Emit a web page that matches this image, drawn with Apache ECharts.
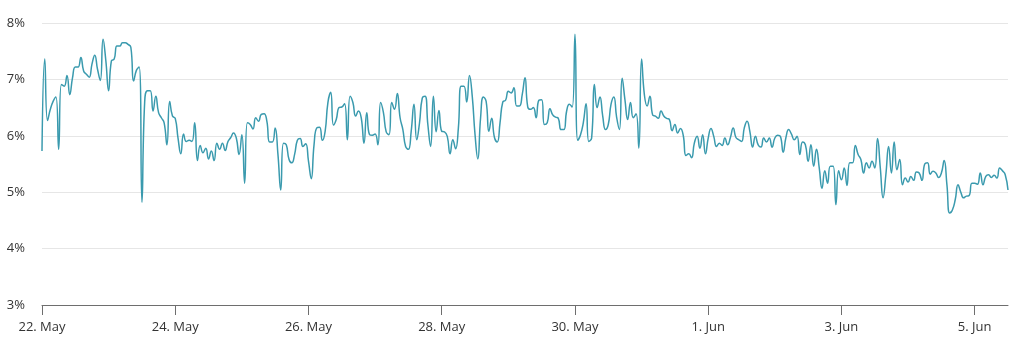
<!DOCTYPE html>
<html>
<head>
<meta charset="utf-8">
<style>
  html, body { margin: 0; padding: 0; background: #ffffff; }
  #chart { width: 1009px; height: 344px; }
</style>
<script src="https://cdn.jsdelivr.net/npm/echarts@6/dist/echarts.min.js"></script>
</head>
<body>
<div id="chart"></div>
<script>
// Hourly rate readings (%), one array per day starting at 00:00 UTC
const may22 = [5.73, 7.36, 6.27, 6.47, 6.61, 6.69, 5.76, 6.91, 6.88, 7.07, 6.73, 7.03,
               7.22, 7.22, 7.39, 7.15, 7.09, 7.04, 7.27, 7.43, 7.18, 6.98, 7.71, 7.33];
const may23 = [6.80, 7.33, 7.36, 7.59, 7.59, 7.65, 7.65, 7.62, 7.57, 6.97, 7.16, 7.22,
               4.82, 6.61, 6.80, 6.80, 6.44, 6.70, 6.41, 6.32, 6.23, 5.84, 6.61, 6.35];
const may24 = [6.31, 5.96, 5.68, 6.03, 5.90, 5.92, 5.90, 6.23, 5.56, 5.83, 5.70, 5.78,
               5.59, 5.73, 5.56, 5.87, 5.76, 5.87, 5.74, 5.90, 5.97, 6.05, 5.96, 5.67];
const may25 = [6.02, 5.16, 6.23, 6.20, 6.12, 6.32, 6.26, 6.38, 6.39, 6.26, 5.89, 5.89,
               6.14, 5.67, 5.04, 5.87, 5.84, 5.58, 5.52, 5.67, 5.92, 5.95, 5.81, 5.86];
const may26 = [5.55, 5.24, 5.84, 6.14, 6.15, 5.92, 6.08, 6.59, 6.77, 6.19, 6.29, 6.50,
               6.51, 6.57, 5.93, 6.70, 6.59, 6.35, 6.44, 6.32, 5.87, 6.41, 6.02, 6.01];
const may27 = [6.03, 5.84, 6.59, 6.41, 6.07, 6.02, 6.59, 6.47, 6.75, 6.32, 6.11, 5.81,
               5.76, 6.08, 6.56, 5.93, 6.23, 6.67, 6.70, 6.20, 5.81, 6.70, 6.07, 6.45];
const may28 = [6.08, 6.07, 5.99, 5.68, 5.93, 5.77, 6.14, 6.88, 6.88, 6.60, 7.07, 6.70,
               6.02, 5.59, 6.32, 6.69, 6.61, 6.08, 6.31, 5.97, 5.89, 6.23, 6.60, 6.63];
const may29 = [6.79, 6.76, 6.85, 6.53, 6.53, 6.73, 7.03, 6.51, 6.47, 6.50, 6.32, 6.63,
               6.64, 6.20, 6.23, 6.48, 6.37, 6.33, 6.31, 6.11, 6.11, 6.44, 6.56, 6.51];
const may30 = [7.80, 5.92, 6.02, 6.23, 6.57, 5.90, 5.96, 6.91, 6.50, 6.69, 6.35, 6.11,
               6.20, 6.56, 6.69, 6.33, 6.11, 7.02, 6.64, 6.29, 6.59, 6.32, 6.39, 5.78];
const may31 = [7.36, 6.73, 6.53, 6.70, 6.37, 6.35, 6.31, 6.44, 6.35, 6.31, 6.29, 6.09,
               6.20, 6.05, 6.13, 6.01, 5.65, 5.68, 5.61, 5.87, 5.99, 5.78, 6.02, 5.68];
const jun01 = [5.96, 6.13, 5.99, 5.81, 5.87, 5.83, 5.96, 5.84, 5.97, 6.14, 5.97, 5.93,
               5.90, 6.14, 6.26, 6.08, 5.80, 5.99, 5.84, 5.80, 5.96, 5.89, 5.96, 5.80];
const jun02 = [5.96, 6.01, 5.99, 5.71, 5.97, 6.11, 6.03, 5.93, 5.99, 5.67, 5.89, 5.84,
               5.55, 5.84, 5.46, 5.76, 5.43, 5.07, 5.38, 5.16, 5.46, 5.46, 4.78, 5.38];
const jun03 = [5.22, 5.43, 5.12, 5.52, 5.52, 5.83, 5.67, 5.58, 5.34, 5.52, 5.43, 5.55,
               5.43, 5.95, 5.43, 4.90, 5.31, 5.81, 5.34, 5.89, 5.40, 5.58, 5.13, 5.25];
const jun04 = [5.18, 5.28, 5.21, 5.36, 5.34, 5.21, 5.50, 5.52, 5.32, 5.37, 5.34, 5.26,
               5.34, 5.56, 5.13, 4.63, 4.69, 4.87, 5.13, 5.00, 4.90, 4.93, 4.94, 5.16];
const jun05 = [5.16, 5.14, 5.34, 5.13, 5.28, 5.31, 5.26, 5.30, 5.25, 5.43, 5.38, 5.31, 5.04];

const days = [may22, may23, may24, may25, may26, may27, may28, may29, may30, may31,
              jun01, jun02, jun03, jun04, jun05];

// Axis tick labels, one every two days
const xTickLabels = ['22. May', '24. May', '26. May', '28. May', '30. May', '1. Jun', '3. Jun', '5. Jun'];
const yTicks = [3, 4, 5, 6, 7, 8];

const HOURS_PER_TICK = 48;

// x = hours since 22 May 00:00
const points = [];
days.forEach((day, d) => day.forEach((v, h) => points.push([d * 24 + h, v])));
const lastHour = points[points.length - 1][0];

const fontFamily = "'Open Sans', 'Noto Sans', sans-serif";

const chart = echarts.init(document.getElementById('chart'), null, { renderer: 'canvas' });
chart.setOption({
  animation: false,
  backgroundColor: '#ffffff',
  grid: { left: 42, right: 1, top: 23, bottom: 39 },
  xAxis: {
    type: 'value',
    min: 0,
    max: lastHour,
    interval: HOURS_PER_TICK,
    axisLine: { show: true, lineStyle: { color: '#6e6e6e', width: 1 } },
    axisTick: {
      show: true, length: 10, lineStyle: { color: '#6e6e6e', width: 1 },
      customValues: xTickLabels.map((_, i) => i * HOURS_PER_TICK)
    },
    axisLabel: {
      color: '#333333', fontSize: 13, fontFamily, margin: 16,
      customValues: xTickLabels.map((_, i) => i * HOURS_PER_TICK),
      formatter: v => xTickLabels[Math.round(v / HOURS_PER_TICK)] || ''
    },
    splitLine: { show: false }
  },
  yAxis: {
    type: 'value',
    min: yTicks[0],
    max: yTicks[yTicks.length - 1],
    interval: 1,
    axisLine: { show: false },
    axisTick: { show: false },
    axisLabel: {
      color: '#333333', fontSize: 13, fontFamily, margin: 17,
      formatter: v => v + '%'
    },
    splitLine: { show: true, lineStyle: { color: '#e6e6e6', width: 1 } }
  },
  series: [{
    type: 'line',
    data: points,
    smooth: 0.5,
    showSymbol: false,
    lineStyle: { color: '#3a9aae', width: 1.5 },
    itemStyle: { color: '#3a9aae' }
  }]
});
</script>
</body>
</html>
